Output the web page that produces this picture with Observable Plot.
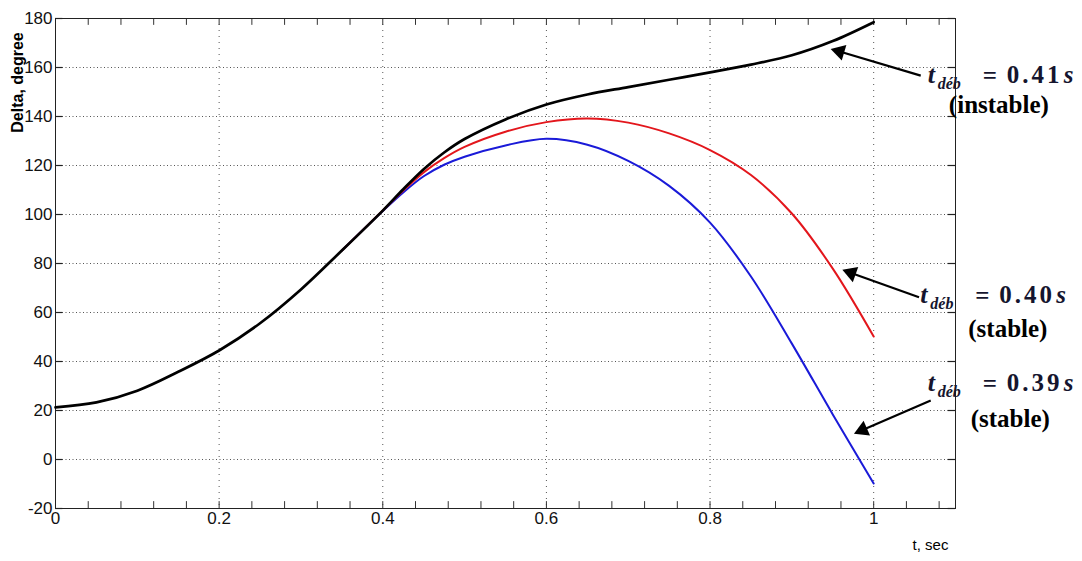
<!DOCTYPE html>
<html><head><meta charset="utf-8">
<script src="https://cdn.jsdelivr.net/npm/d3@7"></script>
<script src="https://cdn.jsdelivr.net/npm/@observablehq/plot@0.6"></script>
<style>
body{margin:0;background:#fff;}
#chart svg{display:block;overflow:visible;}
</style></head><body><div id="chart"></div>
<script>
// Black curve: t_deb = 0.41 s (unstable)
const tBlack = [0,0.05,0.1,0.15,0.2,0.25,0.3,0.35,0.4,0.425,0.45,0.475,0.5,0.55,0.6,0.65,0.7,0.75,0.8,0.85,0.9,0.95,1.0];
const vBlack = [21.3,23.3,28.1,35.8,44.5,55.6,69.4,85.3,101.6,110.3,118.5,125.3,130.8,138.8,144.9,149,152,155,158,161.2,165,170.8,178.5];
// Branches after fault clearing (0.40 s red, 0.39 s blue)
const tBranch = [0.35,0.4,0.425,0.45,0.475,0.5,0.55,0.6,0.65,0.7,0.75,0.8,0.85,0.9,0.95,1.0];
const vRed  = [85.3,101.6,109.8,117.2,123,127.6,133.8,137.7,139.2,137.5,133.1,126.3,116.1,100.4,77.9,50.2];
const vBlue = [85.3,101.4,109,115.6,120.3,123.6,128.2,130.9,128.5,121.9,111.7,96.7,74.7,47.3,18.4,-9.8];

const xLabelValues = [0,0.2,0.4,0.6,0.8,1];
const xLabelTexts  = ["0","0.2","0.4","0.6","0.8","1"];
const xMinorTicks  = d3.range(0,28).map(i => +(i*0.04).toFixed(2));
const yTickValues  = [-20,0,20,40,60,80,100,120,140,160,180];
const yGridValues  = [0,20,40,60,80,100,120,140,160];
const xGridValues  = [0.2,0.4,0.6,0.8,1];
const yAxisTitle = "Delta, degree";
const xAxisTitle = "t, sec";

// annotations
const annNum    = ["0.41","0.40","0.39"];
const annStatus = ["(instable)","(stable)","(stable)"];
const annTx = [1.066,1.057,1.066];
const annTy = [153.5,63.7,27.8];
const annSx = [1.153,1.164,1.167];
const annSy = [141.6,49.8,13.1];
const arrTailX = [1.0575,1.0554,1.0697];
const arrTailY = [156.7,66.2,24.1];
const arrHeadX = [0.9474,0.9617,0.9759];
const arrHeadY = [167.6,77.4,10.5];

const black = tBlack.map((t,i)=>({t, v:vBlack[i]}));
const red   = tBranch.map((t,i)=>({t, v:vRed[i]}));
const blue  = tBranch.map((t,i)=>({t, v:vBlue[i]}));
const ann = annNum.map((n,i)=>({n, s:annStatus[i], tx:annTx[i], ty:annTy[i], sx:annSx[i], sy:annSy[i],
  x1:arrTailX[i], y1:arrTailY[i], x2:arrHeadX[i], y2:arrHeadY[i]}));

const base = {
  width:1082, height:561,
  marginLeft:55, marginRight:127, marginTop:18, marginBottom:53,
  x:{domain:[0,1.1], axis:null},
  y:{domain:[-20,180], axis:null},
  style:{fontFamily:"'Liberation Sans Narrow','Liberation Sans',Arial,sans-serif", fontSize:"17px", color:"#000", background:"#fff"}
};

// first pass to get scales for arrowheads
const probe = Plot.plot({...base, marks:[Plot.frame()]});
const sx = Plot.scale({x: probe.scale("x")});
const sy = Plot.scale({y: probe.scale("y")});
const headR = 6;
const tipDist = 1.555*headR;
const heads = ann.map(a => {
  const px1 = sx.apply(a.x1), py1 = sy.apply(a.y1);
  const px2 = sx.apply(a.x2), py2 = sy.apply(a.y2);
  const dx = px2-px1, dy = py2-py1, L = Math.hypot(dx,dy);
  const cx = px2 - dx/L*tipDist, cy = py2 - dy/L*tipDist;
  return {x: sx.invert(cx), y: sy.invert(cy), angle: Math.atan2(dx,-dy)*180/Math.PI, x1:a.x1, y1:a.y1};
});
// y-axis title position (left of frame, near top)
const yTitlePos = {x: sx.invert(17), y: sy.invert(82)};

const serif = "'Liberation Serif','Times New Roman',serif";
const annColor = "#15152e";

const chart = Plot.plot({...base, marks:[
  Plot.gridY(yGridValues, {stroke:"#555", strokeOpacity:1, strokeDasharray:"1,2.5", strokeWidth:1}),
  Plot.gridX(xGridValues, {stroke:"#555", strokeOpacity:1, strokeDasharray:"1,5", strokeWidth:1}),
  // tick marks (inward)
  Plot.ruleX(xMinorTicks, {x:d=>d, y1:-20, y2:-17.2, stroke:"#333"}),
  Plot.ruleX(xMinorTicks, {x:d=>d, y1:180, y2:177.2, stroke:"#333"}),
  Plot.ruleY(yTickValues, {y:d=>d, x1:0, x2:0.009, stroke:"#222", strokeWidth:1.2}),
  Plot.ruleY(yTickValues, {y:d=>d, x1:1.1, x2:1.091, stroke:"#222", strokeWidth:1.2}),
  Plot.frame({stroke:"#222", strokeWidth:1}),
  // tick labels
  Plot.text(xLabelValues, {x:d=>d, frameAnchor:"bottom", dy:15, text:(d,i)=>xLabelTexts[i], fill:"#111"}),
  Plot.text(yTickValues, {y:d=>d, frameAnchor:"left", dx:-3, textAnchor:"end", text:d=>String(d), fill:"#111"}),
  Plot.text([yAxisTitle], {x:()=>yTitlePos.x, y:()=>yTitlePos.y, rotate:-90, textAnchor:"middle", fontWeight:"bold", fontSize:16, fontFamily:"'Liberation Sans',Arial,sans-serif"}),
  Plot.text([xAxisTitle], {frameAnchor:"bottom-right", textAnchor:"middle", dx:-25, dy:41, fontSize:15}),
  // curves
  Plot.line(blue, {x:"t", y:"v", stroke:"#1a1ad8", strokeWidth:2, curve:"catmull-rom"}),
  Plot.line(red,  {x:"t", y:"v", stroke:"#e3161c", strokeWidth:2, curve:"catmull-rom"}),
  Plot.line(black,{x:"t", y:"v", stroke:"#000", strokeWidth:2.7, curve:"catmull-rom"}),
  // arrows
  Plot.link(heads, {x1:"x1", y1:"y1", x2:"x", y2:"y", stroke:"#000", strokeWidth:2.2}),
  Plot.dot(heads, {x:"x", y:"y", symbol:"triangle", r:headR, fill:"#000", rotate:"angle", stroke:null}),
  // annotation text
  Plot.text(ann, {x:"tx", y:"ty", text:()=>"t", textAnchor:"start", lineAnchor:"bottom", fontFamily:serif, fontStyle:"italic", fontWeight:"bold", fontSize:26, fill:annColor}),
  Plot.text(ann, {x:"tx", y:"ty", text:()=>"déb", textAnchor:"start", lineAnchor:"bottom", dx:10, dy:6, fontFamily:serif, fontStyle:"italic", fontWeight:"bold", fontSize:16, fill:annColor}),
  Plot.text(ann, {x:"tx", y:"ty", text:()=>"=", textAnchor:"start", lineAnchor:"bottom", dx:55, dy:1, fontFamily:serif, fontWeight:"bold", fontSize:25, fill:annColor}),
  Plot.text(ann, {x:"tx", y:"ty", text:"n", textAnchor:"start", lineAnchor:"bottom", dx:79, fontFamily:serif, fontWeight:"bold", fontSize:25, fill:annColor}),
  Plot.text(ann, {x:"tx", y:"ty", text:()=>"s", textAnchor:"start", lineAnchor:"bottom", dx:136, fontFamily:serif, fontStyle:"italic", fontWeight:"bold", fontSize:25, fill:annColor}),
  Plot.text(ann, {x:"sx", y:"sy", text:"s", textAnchor:"middle", lineAnchor:"bottom", fontFamily:serif, fontWeight:"bold", fontSize:25, fill:"#000"})
]});
// spread the formula digits like the original math typesetting
d3.select(chart).selectAll("text").filter(function(){ return annNum.includes(this.textContent); })
  .style("letter-spacing","3px");
document.getElementById("chart").appendChild(chart);
</script></body></html>
